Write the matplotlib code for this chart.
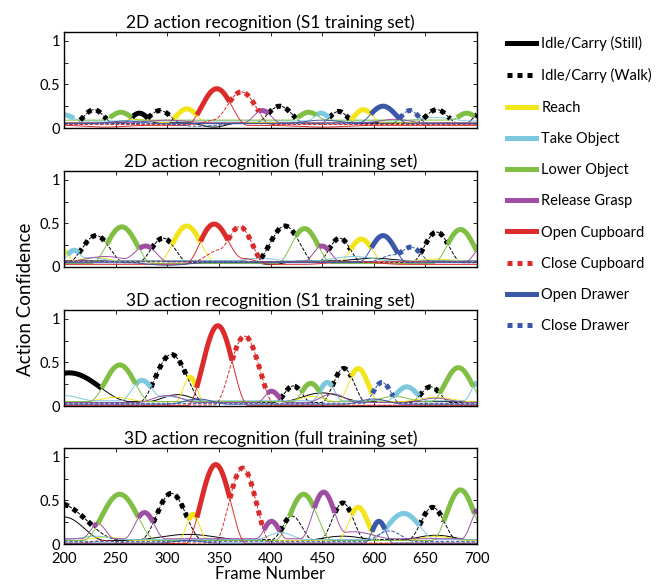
import numpy as np
import matplotlib
matplotlib.use("Agg")
import matplotlib.pyplot as plt
from matplotlib.lines import Line2D

plt.rcParams['font.family'] = ['Lato', 'DejaVu Sans']

ACTIONS = ['Idle/Carry (Still)', 'Idle/Carry (Walk)', 'Reach', 'Take Object', 'Lower Object',
           'Release Grasp', 'Open Cupboard', 'Close Cupboard', 'Open Drawer', 'Close Drawer']
COLORS = ['#000000', '#000000', '#f2e51a', '#7cc8df', '#80bf44', '#9f4fa3',
          '#dc2b2b', '#dc2b2b', '#3b57a7', '#3b57a7']
DOTTED = [False, True, False, False, False, False, False, True, False, True]

TITLES = ['2D action recognition (S1 training set)',
          '2D action recognition (full training set)',
          '3D action recognition (S1 training set)',
          '3D action recognition (full training set)']

# the frame axis jumps from 450 to 600, positions below are axis positions
XTICK_POS = [200, 250, 300, 350, 400, 450, 500, 550, 600]
XTICK_LABELS = ['200', '250', '300', '350', '400', '450', '600', '650', '700']

# resting confidence of every action (same order as ACTIONS)
BASE_2D_S1 = [0.06, 0.05, 0.06, 0.08, 0.09, 0.06, 0.03, 0.04, 0.05, 0.05]
BASE_2D_FULL = [0.07, 0.05, 0.06, 0.07, 0.04, 0.06, 0.03, 0.06, 0.05, 0.06]
BASE_3D_S1 = [0.05, 0.04, 0.05, 0.06, 0.05, 0.04, 0.0, 0.01, 0.02, 0.03]
BASE_3D_FULL = [0.04, 0.05, 0.04, 0.05, 0.04, 0.06, 0.0, 0.01, 0.01, 0.03]

# confidence bumps: (action, position, peak above rest, half width)
BUMPS_2D_S1 = [(3, 200, 0.07, 18), (1, 229, 0.16, 20), (4, 255, 0.09, 18), (0, 273, 0.11, 16),
               (1, 293, 0.15, 22), (2, 319, 0.16, 20), (6, 348, 0.42, 30), (7, 373, 0.36, 28),
               (7, 352, 0.06, 30), (5, 392, 0.14, 18), (1, 409, 0.20, 25), (4, 437, 0.09, 18),
               (3, 449, 0.09, 14), (1, 466, 0.14, 18), (2, 490, 0.15, 18), (8, 509, 0.20, 25),
               (9, 535, 0.15, 18), (1, 561, 0.16, 22), (4, 590, 0.08, 16), (0, 602, 0.10, 12),
               (2, 270, 0.04, 30), (5, 300, 0.03, 40), (8, 450, 0.04, 40),
               (6, 240, -0.02, 40), (6, 450, -0.02, 50), (5, 520, 0.04, 30), (3, 560, 0.04, 35),
               (0, 345, -0.05, 25), (8, 260, 0.03, 35), (9, 330, -0.03, 40)]
BUMPS_2D_FULL = [(2, 200, 0.12, 10), (3, 209, 0.11, 12), (1, 231, 0.31, 28), (4, 256, 0.42, 30),
                 (5, 279, 0.18, 22), (1, 296, 0.28, 25), (2, 319, 0.41, 28), (6, 345, 0.46, 28),
                 (6, 372, 0.07, 30), (7, 372, 0.37, 22), (7, 352, 0.14, 28), (1, 414, 0.42, 30),
                 (4, 433, 0.40, 27), (5, 450, 0.18, 18), (1, 467, 0.28, 22), (2, 488, 0.26, 22),
                 (8, 509, 0.31, 24), (9, 538, 0.15, 18), (9, 520, 0.08, 25), (1, 561, 0.35, 25),
                 (4, 584, 0.39, 27), (5, 603, 0.14, 14),
                 (5, 240, 0.06, 40), (3, 390, 0.03, 30), (0, 500, 0.03, 40),
                 (3, 225, 0.04, 25), (2, 230, 0.05, 30), (8, 300, -0.03, 40), (0, 400, -0.04, 30),
                 (3, 480, 0.05, 40), (6, 480, 0.03, 50), (2, 560, 0.03, 40)]
BUMPS_3D_S1 = [(0, 205, 0.33, 60), (3, 200, 0.06, 30), (4, 254, 0.42, 30), (3, 275, 0.23, 20),
               (1, 304, 0.55, 32), (2, 322, 0.28, 14), (6, 349, 0.92, 30), (7, 375, 0.79, 30),
               (5, 401, 0.13, 14), (1, 422, 0.19, 18), (4, 439, 0.21, 18), (3, 455, 0.21, 15),
               (1, 471, 0.39, 22), (2, 485, 0.38, 20), (9, 508, 0.24, 18), (3, 532, 0.16, 20),
               (1, 555, 0.18, 20), (4, 582, 0.39, 27), (3, 601, 0.21, 14),
               (0, 310, 0.08, 30), (0, 450, 0.10, 40), (5, 300, 0.08, 30), (5, 460, 0.10, 25),
               (8, 330, 0.06, 30), (2, 250, 0.05, 30),
               (2, 440, 0.06, 25), (3, 300, 0.05, 30), (4, 520, 0.06, 30), (8, 500, 0.06, 30),
               (5, 560, 0.05, 30), (2, 560, 0.05, 35)]
BUMPS_3D_FULL = [(1, 193, 0.42, 60), (0, 200, 0.27, 40), (5, 233, 0.17, 16), (4, 254, 0.53, 36),
                 (5, 278, 0.30, 20), (1, 304, 0.53, 30), (2, 325, 0.30, 14), (6, 347, 0.91, 30),
                 (7, 373, 0.86, 28), (5, 401, 0.20, 15), (1, 421, 0.27, 20), (4, 432, 0.53, 28),
                 (5, 451, 0.52, 22), (1, 470, 0.42, 22), (2, 485, 0.38, 20), (8, 505, 0.25, 14),
                 (9, 515, 0.12, 25), (3, 529, 0.30, 32), (1, 557, 0.37, 24), (4, 584, 0.58, 28),
                 (5, 603, 0.36, 18),
                 (0, 320, 0.07, 60), (0, 470, 0.05, 40), (0, 560, 0.06, 40), (3, 410, 0.08, 25),
                 (2, 240, 0.04, 30), (5, 480, 0.08, 40),
                 (3, 230, 0.04, 30), (2, 560, 0.05, 30), (8, 320, 0.03, 30), (7, 240, 0.03, 25)]

PANELS = [(BASE_2D_S1, BUMPS_2D_S1), (BASE_2D_FULL, BUMPS_2D_FULL),
          (BASE_3D_S1, BUMPS_3D_S1), (BASE_3D_FULL, BUMPS_3D_FULL)]


def confidences(base, bumps, x):
    y = np.tile(np.array(base, dtype=float)[:, None], (1, len(x)))
    for a, c, h, w in bumps:
        d = np.abs(x - c)
        y[a] += np.where(d < w, h * 0.5 * (1 + np.cos(np.pi * np.minimum(d, w) / w)), 0)
    return np.clip(y, 0.003, None)


fig = plt.figure(figsize=(6.61, 5.84), dpi=100)
x = np.linspace(200, 600, 1601)
bottoms = [1 - 128 / 584., 1 - 267 / 584., 1 - 406 / 584., 1 - 544 / 584.]

for i, (base, bumps) in enumerate(PANELS):
    ax = fig.add_axes([64 / 661., bottoms[i], 413 / 661., 96 / 584.])
    y = confidences(base, bumps, x)
    best = y.argmax(axis=0)
    for a in range(len(ACTIONS)):
        ax.plot(x, y[a], color=COLORS[a], lw=0.7, ls='--' if DOTTED[a] else '-')
    for a in range(len(ACTIONS)):
        thick = np.where((best == a) & (y[a] - base[a] > 0.03), y[a], np.nan)
        if DOTTED[a]:
            ax.plot(x, thick, color=COLORS[a], lw=3.6, ls=(0, (1, 1)))
        else:
            ax.plot(x, thick, color=COLORS[a], lw=3.6, solid_capstyle='butt')
    ax.set_xlim(200, 600)
    ax.set_ylim(0, 1.1)
    ax.set_yticks([0, 0.25, 0.5, 0.75, 1])
    ax.set_yticklabels(['0', '', '0.5', '', '1'])
    ax.set_xticks(XTICK_POS)
    if i == 3:
        ax.set_xticklabels(XTICK_LABELS)
        ax.set_xlabel('Frame Number', fontsize=12, labelpad=0)
    else:
        ax.set_xticklabels([])
    ax.tick_params(direction='in', length=3, width=0.6, top=True, right=True,
                   labelsize=10.5, pad=3)
    ax.tick_params(axis='x', pad=6)
    for s in ax.spines.values():
        s.set_linewidth(1.0)
    ax.set_title(TITLES[i], fontsize=12.5, pad=3)

fig.text(0.038, 0.487, 'Action Confidence', rotation=90, fontsize=13.5, ha='center', va='center')

handles = [Line2D([], [], color=COLORS[a], lw=3.6, ls=(0, (1, 1)) if DOTTED[a] else '-')
           for a in range(len(ACTIONS))]
fig.legend(handles, ACTIONS, loc='upper left', bbox_to_anchor=(494 / 661., 1 - 23 / 584.),
           frameon=False, fontsize=10.5, handlelength=2.0, handletextpad=0.35, labelspacing=1.18)

fig.savefig('out.png', dpi=100)
